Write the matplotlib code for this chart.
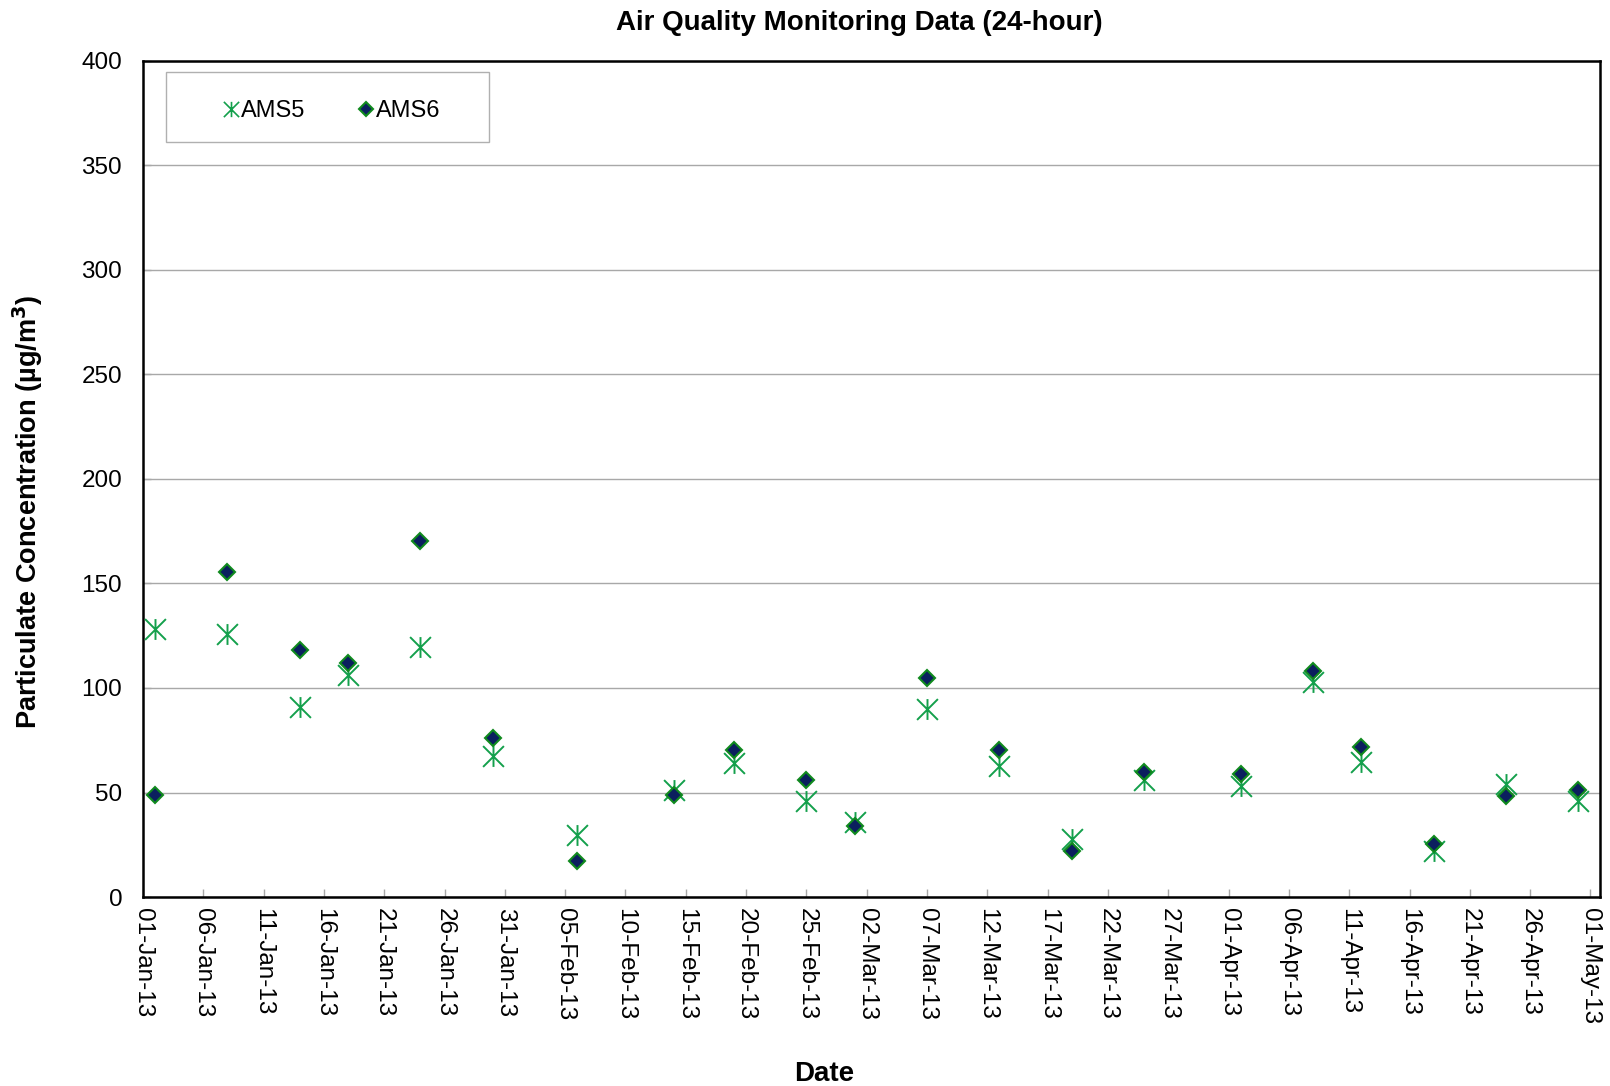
import matplotlib
matplotlib.use("Agg")
import matplotlib.pyplot as plt
import matplotlib.dates as mdates
from matplotlib.path import Path
from matplotlib.patches import Rectangle
import datetime as dt

plt.rcParams['font.family'] = ['Liberation Sans', 'DejaVu Sans']

# Sampling dates (2013) and 24-hour particulate concentrations (µg/m³)
dates = ["2013-01-02", "2013-01-08", "2013-01-14", "2013-01-18", "2013-01-24",
         "2013-01-30", "2013-02-06", "2013-02-14", "2013-02-19", "2013-02-25",
         "2013-03-01", "2013-03-07", "2013-03-13", "2013-03-19", "2013-03-25",
         "2013-04-02", "2013-04-08", "2013-04-12", "2013-04-18", "2013-04-24",
         "2013-04-30"]
ams5 = [128.0, 126.0, 91.0, 106.0, 119.5, 67.7, 29.6, 51.4, 63.9, 45.7,
        35.8, 90.0, 62.9, 28.0, 55.9, 52.9, 102.8, 64.8, 21.8, 54.0, 45.7]
ams6 = [49.0, 155.4, 118.1, 112.0, 170.2, 76.3, 17.1, 48.9, 70.1, 56.1,
        34.2, 104.9, 70.1, 21.9, 59.9, 58.8, 107.9, 71.9, 25.3, 48.2, 51.0]
series_names = ["AMS5", "AMS6"]
y_ticks = [0, 50, 100, 150, 200, 250, 300, 350, 400]

x = [dt.datetime.strptime(d, "%Y-%m-%d") for d in dates]

# Asterisk marker: vertical bar crossed by an X
star = Path([(0, -1), (0, 1), (-1, -1), (1, 1), (-1, 1), (1, -1)],
            [Path.MOVETO, Path.LINETO, Path.MOVETO, Path.LINETO,
             Path.MOVETO, Path.LINETO])

green = '#14a04c'
fig = plt.figure(figsize=(16.1, 10.86), dpi=100)
ax = fig.add_axes([0.0888, 0.174, 0.905, 0.770])

ax.plot(x, ams5, linestyle='none', marker=star, markersize=15,
        markeredgewidth=1.4, color=green, label=series_names[0], zorder=3)
ax.plot(x, ams6, linestyle='none', marker='D', markersize=8.4,
        markerfacecolor='#0b1f5e', markeredgecolor='#108a1e',
        markeredgewidth=1.5, label=series_names[1], zorder=4)

ax.set_ylim(0, 400)
ax.set_yticks(y_ticks)
ax.set_xlim(dt.datetime(2013, 1, 1), dt.datetime(2013, 5, 1, 19))
xt = [dt.datetime(2013, 1, 1) + dt.timedelta(days=5 * i) for i in range(25)]
ax.set_xticks(xt)
ax.xaxis.set_major_formatter(mdates.DateFormatter('%d-%b-%y'))
for lbl in ax.get_xticklabels():
    lbl.set_rotation(270)
    lbl.set_va('top')
    lbl.set_ha('center')

ax.yaxis.grid(True, color='#a8a8a8', linewidth=1.0)
ax.set_axisbelow(True)
ax.tick_params(axis='both', direction='in', length=6, width=1,
               color='#a8a8a8', labelsize=17.5)
ax.tick_params(axis='y', pad=15)
ax.tick_params(axis='x', pad=8)
for s in ax.spines.values():
    s.set_color('black')
    s.set_linewidth(1.8)

# Legend box
ax.add_patch(Rectangle((0.0158, 0.903), 0.2217, 0.0837, transform=ax.transAxes,
                       facecolor='white', edgecolor='#b0b0b0', linewidth=1.0,
                       zorder=5))
leg = ax.legend(loc='center', bbox_to_anchor=(0.1303, 0.9395), ncol=2,
                frameon=False, fontsize=17, handlelength=0.55,
                handletextpad=0.15, columnspacing=2.3, numpoints=1)
leg.set_zorder(6)
h5, h6 = leg.legend_handles
h5.set_markersize(11)
h5.set_markeredgewidth(1.2)
h6.set_markersize(7)

fig.text(0.534, 0.979, "Air Quality Monitoring Data (24-hour)", ha='center',
         va='center', fontsize=20, fontweight='bold')
fig.text(0.0174, 0.529, "Particulate Concentration (µg/m$^{\\mathbf{3}}$)",
         rotation=90, ha='center', va='center', fontsize=19.5, fontweight='bold')
fig.text(0.512, 0.011, "Date", ha='center', va='center', fontsize=20,
         fontweight='bold')

fig.savefig("out.png", dpi=100)
